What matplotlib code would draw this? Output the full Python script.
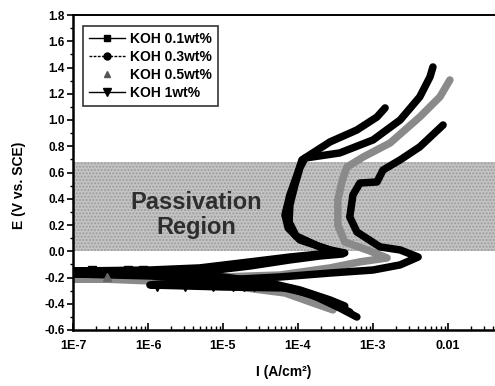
import matplotlib
matplotlib.use("Agg")
import matplotlib.pyplot as plt
from matplotlib.lines import Line2D
from matplotlib.ticker import FixedLocator, FixedFormatter, LogLocator, NullFormatter, MultipleLocator

plt.rcParams['font.family'] = ['Liberation Sans', 'DejaVu Sans']
plt.rcParams['font.weight'] = 'bold'

# ---------------- data ----------------
labels = ["KOH 0.1wt%", "KOH 0.3wt%", "KOH 0.5wt%", "KOH 1wt%"]

# KOH 0.1 wt%
i_01 = [4.2e-4, 2.67e-4, 1.06e-4, 4.2e-5, 1.0e-5, 1.06e-6, 1.0e-7, 1.06e-6, 4.9e-6, 2.3e-5,
        7.8e-5, 1.96e-4, 4.2e-4, 2.67e-4, 1.06e-4, 7.4e-5, 6.7e-5, 7.8e-5, 9.7e-5, 1.13e-4,
        2.67e-4, 6.1e-4, 1.13e-3, 1.45e-3]
e_01 = [-0.417, -0.371, -0.295, -0.242, -0.196, -0.166, -0.151, -0.143, -0.127, -0.081,
        -0.044, -0.021, -0.013, 0.010, 0.086, 0.177, 0.277, 0.429, 0.581, 0.696,
        0.833, 0.924, 1.023, 1.092]

# KOH 0.3 wt%
i_03 = [6.1e-4, 3.6e-4, 1.45e-4, 5.75e-5, 1.0e-5, 1.06e-6, 1.0e-7, 1.06e-6, 4.9e-6, 2.3e-5,
        7.8e-5, 1.96e-4, 3.9e-4, 1.96e-4, 9.4e-5, 7.6e-5, 7.8e-5, 9.1e-5, 1.06e-4, 1.24e-4,
        3.6e-4, 1.0e-3, 2.3e-3, 4.2e-3, 5.75e-3, 6.3e-3]
e_03 = [-0.501, -0.432, -0.325, -0.272, -0.226, -0.188, -0.173, -0.166, -0.158, -0.112,
        -0.066, -0.036, -0.021, 0.033, 0.117, 0.223, 0.353, 0.505, 0.635, 0.710,
        0.749, 0.848, 1.0, 1.176, 1.328, 1.404]

# KOH 0.5 wt%
i_05 = [2.93e-4, 1.45e-4, 6.7e-5, 1.0e-5, 1.06e-6, 2.3e-7, 1.0e-7, 1.06e-6, 1.0e-5, 5.75e-5,
        2.67e-4, 6.7e-4, 1.54e-3, 9.1e-4, 4.2e-4, 3.4e-4, 3.4e-4, 3.9e-4, 4.5e-4, 7.4e-4,
        1.69e-3, 4.2e-3, 7.8e-3, 1.06e-2]
e_05 = [-0.447, -0.386, -0.318, -0.257, -0.226, -0.211, -0.211, -0.211, -0.196, -0.181,
        -0.127, -0.081, -0.051, 0.002, 0.071, 0.200, 0.391, 0.543, 0.642, 0.718,
        0.825, 1.023, 1.176, 1.305]

# KOH 1 wt%
i_1 = [4.9e-4, 1.96e-4, 7.8e-5, 1.0e-5, 1.06e-6, 1.0e-5, 5.75e-5, 2.67e-4, 1.0e-3, 2.3e-3,
       4.0e-3, 2.3e-3, 1.24e-3, 6.1e-4, 4.9e-4, 5.4e-4, 6.7e-4, 1.13e-3, 1.36e-3, 2.3e-3,
       4.2e-3, 7.8e-3, 8.6e-3]
e_1 = [-0.463, -0.356, -0.280, -0.272, -0.257, -0.219, -0.196, -0.166, -0.143, -0.104,
       -0.044, 0.010, 0.033, 0.147, 0.261, 0.429, 0.520, 0.528, 0.619, 0.696,
       0.795, 0.939, 0.962]

# visible data markers near the corrosion potential
mi_01 = [1.8e-7, 5.4e-7, 8.6e-7]
me_01 = [-0.143, -0.143, -0.143]
mi_05 = [2.8e-7]
me_05 = [-0.196]
mi_1 = [1.3e-6, 3.1e-6, 7.4e-6, 1.35e-5, 1.9e-5, 2.6e-5]
me_1 = [-0.268, -0.268, -0.268, -0.268, -0.268, -0.268]

passive_low, passive_high = 0.0, 0.68

x_ticks = [1e-7, 1e-6, 1e-5, 1e-4, 1e-3, 1e-2]
x_ticklabels = ["1E-7", "1E-6", "1E-5", "1E-4", "1E-3", "0.01"]
y_ticks = [-0.6, -0.4, -0.2, 0.0, 0.2, 0.4, 0.6, 0.8, 1.0, 1.2, 1.4, 1.6, 1.8]
y_ticklabels = ["-0.6", "-0.4", "-0.2", "0.0", "0.2", "0.4", "0.6", "0.8",
                "1.0", "1.2", "1.4", "1.6", "1.8"]

# ---------------- figure ----------------
fig = plt.figure(figsize=(4.95, 3.86), dpi=100)
ax = fig.add_axes([73/495, 1-330/386, 422/495, 315/386])
ax.set_xscale('log')
ax.set_xlim(1e-7, 10**(-7 + 422/75))
ax.set_ylim(-0.6, 1.8)

ax.axhspan(passive_low, passive_high, facecolor='#c4c4c4', edgecolor='#9c9c9c',
           hatch='.....', lw=0, zorder=0)

lw = 5.4
ax.plot(i_05, e_05, color='#8a8a8a', lw=lw, solid_capstyle='round',
        solid_joinstyle='round', zorder=2)
ax.plot(i_1, e_1, color='black', lw=lw, solid_capstyle='round',
        solid_joinstyle='round', zorder=3)
ax.plot(i_03, e_03, color='black', lw=lw, solid_capstyle='round',
        solid_joinstyle='round', zorder=3)
ax.plot(i_01, e_01, color='black', lw=lw, solid_capstyle='round',
        solid_joinstyle='round', zorder=3)

ax.plot(mi_01, me_01, ls='none', marker='s', ms=6, color='black', zorder=4)
ax.plot(mi_05, me_05, ls='none', marker='^', ms=6, color='#666666', zorder=4)
ax.plot(mi_1, me_1, ls='none', marker='v', ms=6.5, color='black', zorder=4)

ax.text(4.4e-6, 0.277, "Passivation\nRegion", ha='center', va='center',
        fontsize=17, fontweight='bold', color='#2e2e2e', linespacing=1.15, zorder=5)

# axes styling
ax.spines['right'].set_visible(False)
for s in ['left', 'bottom']:
    ax.spines[s].set_linewidth(1.8)
ax.spines['top'].set_linewidth(1.4)

ax.xaxis.set_major_locator(FixedLocator(x_ticks))
ax.xaxis.set_major_formatter(FixedFormatter(x_ticklabels))
ax.xaxis.set_minor_locator(LogLocator(base=10, subs=range(2, 10)))
ax.xaxis.set_minor_formatter(NullFormatter())
ax.yaxis.set_major_locator(FixedLocator(y_ticks))
ax.yaxis.set_major_formatter(FixedFormatter(y_ticklabels))
ax.yaxis.set_minor_locator(MultipleLocator(0.1))

ax.tick_params(axis='x', which='major', direction='in', length=5, width=1.2,
               labelsize=9, pad=7, top=False)
ax.tick_params(axis='x', which='minor', direction='in', length=3, width=1.0, top=False)
ax.tick_params(axis='y', which='major', direction='out', length=4, width=1.2,
               labelsize=8.5, pad=2, right=False)
ax.tick_params(axis='y', which='minor', direction='out', length=2.5, width=1.0, right=False)
for t in ax.get_xticklabels() + ax.get_yticklabels():
    t.set_fontweight('bold')

ax.set_xlabel("I (A/cm²)", fontsize=10, fontweight='bold')
ax.xaxis.set_label_coords(0.5, -0.11)
ax.set_ylabel("E (V vs. SCE)", fontsize=10, fontweight='bold')
ax.yaxis.set_label_coords(-0.112, 0.46)

handles = [
    Line2D([], [], color='black', lw=1.0, marker='s', ms=5),
    Line2D([], [], color='black', lw=1.0, ls=(0, (2, 1)), marker='o', ms=5),
    Line2D([], [], color='#555555', lw=0, marker='^', ms=5),
    Line2D([], [], color='black', lw=1.0, marker='v', ms=6),
]
leg = ax.legend(handles, labels, loc='upper left', bbox_to_anchor=(0.024, 0.966),
                borderaxespad=0, frameon=True, fancybox=False, edgecolor='black',
                handlelength=2.6, handletextpad=0.35, labelspacing=0.28,
                borderpad=0.45, prop={'weight': 'bold', 'size': 10})
leg.get_frame().set_linewidth(1.2)

fig.savefig("out.png", dpi=100)
